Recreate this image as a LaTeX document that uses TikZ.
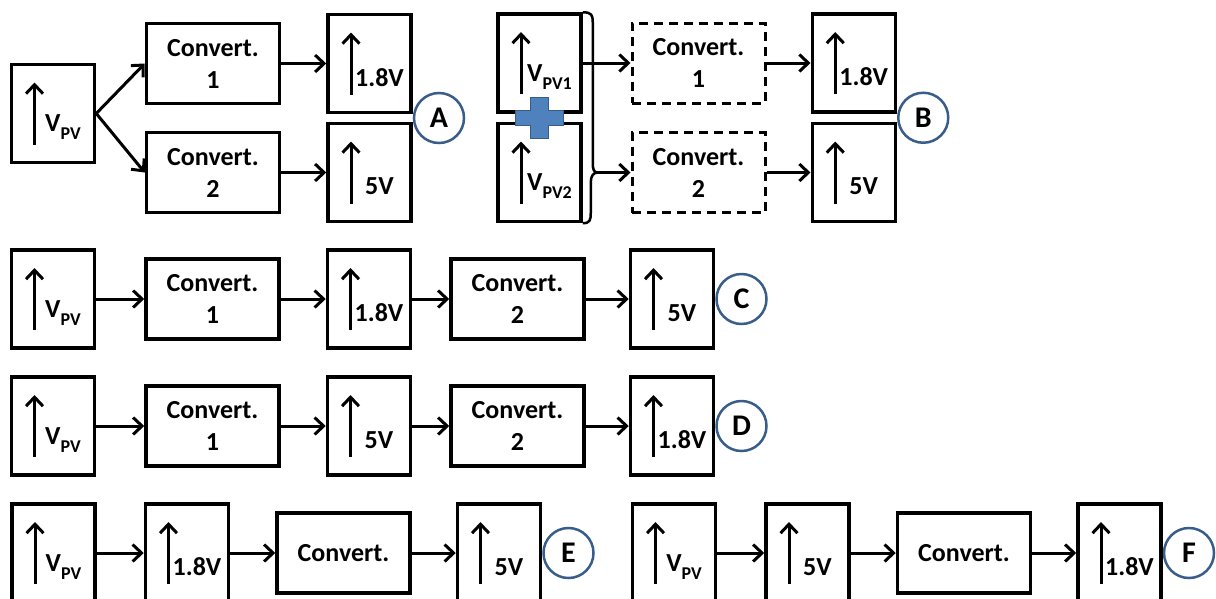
\documentclass[tikz,border=0pt]{standalone}
\usepackage{fontspec}
\setmainfont{Carlito}
\usetikzlibrary{arrows.meta, positioning, calc}
\definecolor{tagblue}{HTML}{385D8A}
\definecolor{plusblue}{HTML}{4F81BD}
\newcommand{\vsub}[1]{V\raisebox{-8pt}{\fontsize{18}{18}\selectfont #1}}

\begin{document}
\begin{tikzpicture}[
  x=1pt, y=-1pt,
  font=\bfseries\fontsize{26}{32}\selectfont,
  >={Straight Barb[length=9pt, width=17pt]},
  conv/.style={draw, line width=3.5pt, align=center, inner sep=0pt,
               minimum width=133pt, minimum height=80pt},
  convd/.style={conv, line width=3pt, dash pattern=on 9pt off 6pt},
  vbox/.style={draw, line width=3.5pt, inner sep=0pt,
               minimum width=83pt, minimum height=98pt,
               path picture={\draw[->, line width=3pt, solid]
                 ([xshift=23pt, yshift=18pt]path picture bounding box.south west) --
                 ([xshift=23pt, yshift=-18pt]path picture bounding box.north west);},
               label={[vtext]center:#1}},
  vtext/.style={anchor=base, xshift=10pt, yshift=-14pt,
                font=\bfseries\fontsize{26}{26}\selectfont},
  tag/.style={circle, draw=tagblue, line width=2.5pt, inner sep=0pt,
              minimum size=50pt, font=\bfseries\fontsize{30}{30}\selectfont},
  flow/.style={->, line width=3pt},
  brace/.style={line width=2.5pt},
  plusmark/.style={fill=plusblue, draw=tagblue, line width=1.5pt}
]
\useasboundingbox (0,0) rectangle (1216,598);

% A: one source, two converters in parallel
\node[vbox=\vsub{PV}] (vA) at (53,113.5) {};
\node[conv] (cA1) at (213,63.5) {Convert.\\1};
\node[conv] (cA2) at (213,172.5) {Convert.\\2};
\node[vbox=1.8V, right=45pt of cA1] (oA1) {};
\node[vbox=5V, right=45pt of cA2] (oA2) {};
\node[tag, anchor=west] (tA) at ($(oA1.south east)!0.5!(oA2.north east)$) {A};

\draw[flow] (vA.east) -- (cA1.west);
\draw[flow] (vA.east) -- (cA2.west);
\draw[flow] (cA1) -- (oA1);
\draw[flow] (cA2) -- (oA2);

% B: two stacked sources, optional converters
\node[vbox=\vsub{PV1}] (vB1) at (539.5,63) {};
\node[vbox=\vsub{PV2}] (vB2) at (539.5,172.5) {};
\node[convd] (dB1) at (698.5,63) {Convert.\\1};
\node[convd] (dB2) at (698.5,172.5) {Convert.\\2};
\node[vbox=1.8V, right=44pt of dB1] (oB1) {};
\node[vbox=5V, right=44pt of dB2] (oB2) {};
\node[tag, anchor=west] (tB) at ($(oB1.south east)!0.5!(oB2.north east)$) {B};

\coordinate (tip) at ($(vB2.east)+(15,0)$);
\draw[brace] (vB1.north east) .. controls +(9,0) and +(0,-7) .. ++(10,10)
  -- ($(tip)+(-5,-10)$) .. controls +(0,7) and +(-4,0) .. (tip)
  .. controls +(-4,0) and +(0,-7) .. ++(-7,10)
  -- ($(vB2.south east)+(8,-10)$) .. controls +(0,7) and +(7,0) .. (vB2.south east);

\coordinate (plus) at ($(vB1.south)!0.5!(vB2.north)$);
\filldraw[plusmark] (plus) ++(-24,-7.5) -- ++(15,0) -- ++(0,-13) -- ++(18,0)
  -- ++(0,13) -- ++(15,0) -- ++(0,15) -- ++(-15,0) -- ++(0,13) -- ++(-18,0)
  -- ++(0,-13) -- ++(-15,0) -- cycle;

\draw[flow] (vB1.east) -- (dB1.west);
\draw[flow] (tip) -- (dB2.west);
\draw[flow] (dB1) -- (oB1);
\draw[flow] (dB2) -- (oB2);

% C: 1.8V first, then 5V
\node[vbox=\vsub{PV}] (vC) at (53,299) {};
\node[conv, right=48pt of vC] (cC1) {Convert.\\1};
\node[vbox=1.8V, right=45pt of cC1] (oC1) {};
\node[conv, right=37pt of oC1] (cC2) {Convert.\\2};
\node[vbox=5V, right=43pt of cC2] (oC2) {};
\node[tag, right=0pt of oC2] (tC) {C};

\draw[flow] (vC) -- (cC1);
\draw[flow] (cC1) -- (oC1);
\draw[flow] (oC1) -- (cC2);
\draw[flow] (cC2) -- (oC2);

% D: 5V first, then 1.8V
\node[vbox=\vsub{PV}] (vD) at (53,426) {};
\node[conv, right=48pt of vD] (cD1) {Convert.\\1};
\node[vbox=5V, right=45pt of cD1] (oD1) {};
\node[conv, right=37pt of oD1] (cD2) {Convert.\\2};
\node[vbox=1.8V, right=43pt of cD2] (oD2) {};
\node[tag, right=0pt of oD2] (tD) {D};

\draw[flow] (vD) -- (cD1);
\draw[flow] (cD1) -- (oD1);
\draw[flow] (oD1) -- (cD2);
\draw[flow] (cD2) -- (oD2);

% E: source feeds 1.8V directly
\node[vbox=\vsub{PV}] (vE) at (53.5,553) {};
\node[vbox=1.8V, right=47pt of vE] (oE1) {};
\node[conv, right=45pt of oE1] (cE) {Convert.};
\node[vbox=5V, right=44pt of cE] (oE2) {};
\node[tag, right=0pt of oE2] (tE) {E};

\draw[flow] (vE) -- (oE1);
\draw[flow] (oE1) -- (cE);
\draw[flow] (cE) -- (oE2);

% F: source feeds 5V directly
\node[vbox=\vsub{PV}] (vF) at (674,553) {};
\node[vbox=5V, right=47pt of vF] (oF1) {};
\node[conv, right=45pt of oF1] (cF) {Convert.};
\node[vbox=1.8V, right=44pt of cF] (oF2) {};
\node[tag, right=0pt of oF2] (tF) {F};

\draw[flow] (vF) -- (oF1);
\draw[flow] (oF1) -- (cF);
\draw[flow] (cF) -- (oF2);

\end{tikzpicture}
\end{document}
